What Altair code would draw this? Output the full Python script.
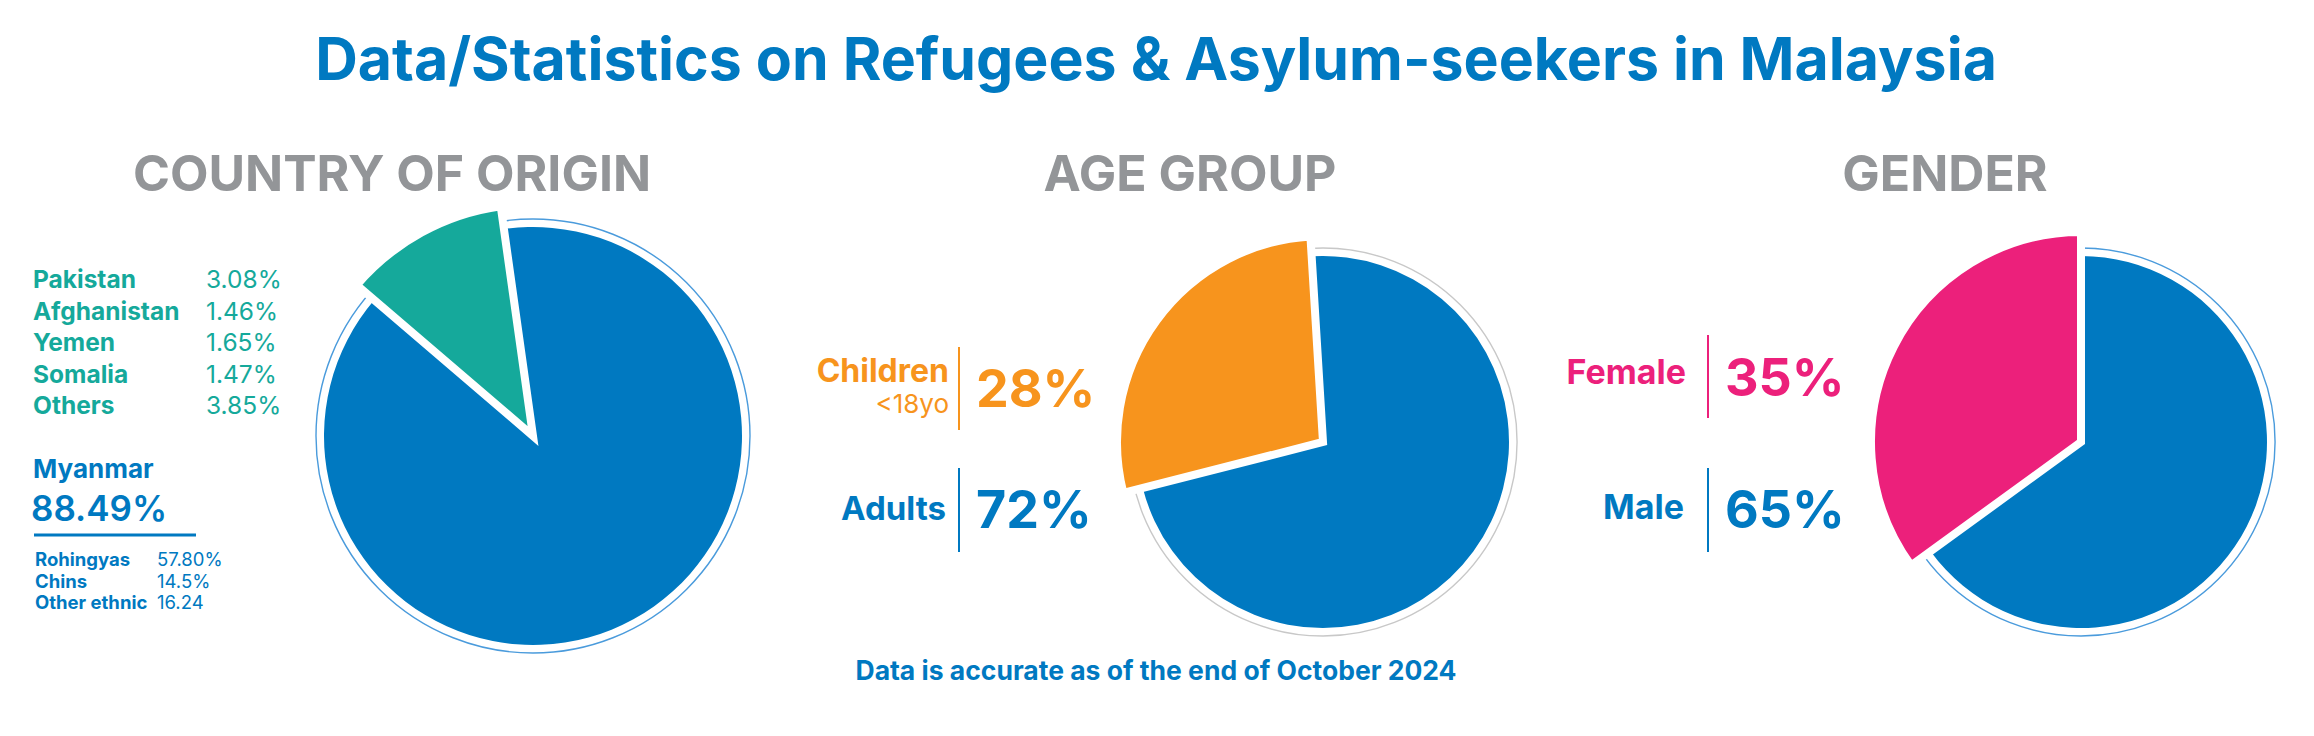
import math

import altair as alt
import pandas as pd

# ---- text -----------------------------------------------------------------
TITLE = "Data/Statistics on Refugees & Asylum-seekers in Malaysia"
NOTE = "Data is accurate as of the end of October 2024"
SECTIONS = ["COUNTRY OF ORIGIN", "AGE GROUP", "GENDER"]

# ---- data -----------------------------------------------------------------
other_countries = ["Pakistan", "Afghanistan", "Yemen", "Somalia", "Others"]
other_pcts = [3.08, 1.46, 1.65, 1.47, 3.85]
myanmar_pct = 88.49

ethnic_groups = ["Rohingyas", "Chins", "Other ethnic"]
ethnic_labels = ["57.80%", "14.5%", "16.24"]

age_groups = ["Adults", "Children"]
age_pcts = [72, 28]

genders = ["Male", "Female"]
gender_pcts = [65, 35]

# ---- style ----------------------------------------------------------------
FONT = "Inter"
BLUE = "#0079C1"
TEAL = "#15A99B"
ORANGE = "#F7941D"
PINK = "#EC207B"
GREY = "#939598"
RING_BLUE = "#4A9BDC"
RING_GREY = "#C8C8C8"
TAU = 2 * math.pi


def text(df, field, x, y, size, color, weight="bold", align="left"):
    return (
        alt.Chart(df)
        .mark_text(font=FONT, fontSize=size, fontWeight=weight, color=color,
                   align=align, baseline="alphabetic")
        .encode(text=f"{field}:N", x=alt.value(x), y=alt.value(y))
    )


def one(value):
    return pd.DataFrame({"t": [value]})


def pie(names, values, cx, cy, r, r_pop, start_deg, ring_color, pop_color):
    df = pd.DataFrame({"name": names, "value": values})
    df["t1"] = df["value"].cumsum()
    df["t0"] = df["t1"] - df["value"]
    start = math.radians(start_deg) % TAU
    theta_scale = alt.Scale(domain=[0, 100], range=[start, start + TAU])
    enc = dict(
        theta=alt.Theta("t0:Q", scale=theta_scale),
        theta2="t1:Q",
        x=alt.value(cx),
        y=alt.value(cy),
    )
    ring = (
        alt.Chart(df.head(1))
        .mark_arc(radius=r + 8, fill="white", stroke=ring_color, strokeWidth=1.4)
        .encode(theta=alt.value(0), theta2=alt.value(TAU), x=alt.value(cx), y=alt.value(cy))
    )
    main = (
        alt.Chart(df)
        .transform_filter(alt.datum.name == names[0])
        .mark_arc(radius=r, fill=BLUE)
        .encode(**enc)
    )
    pop = (
        alt.Chart(df)
        .transform_filter(alt.datum.name == names[1])
        .mark_arc(radius=r_pop, fill=pop_color, stroke="white", strokeWidth=8,
                  strokeJoin="miter")
        .encode(**enc)
    )
    return [ring, main, pop]


def pick(df, col, val):
    return df[df[col] == val]


layers = []

# headings
layers.append(text(one(TITLE), "t", 1156, 80, 59, BLUE, align="center"))
for label, cx in zip(SECTIONS, [392, 1190, 1945]):
    layers.append(text(one(label), "t", cx, 191, 50, GREY, align="center"))
layers.append(text(one(NOTE), "t", 1156, 680, 26.5, BLUE, align="center"))

# ---- country of origin ----------------------------------------------------
layers += pie(["Myanmar", "Other countries"], [myanmar_pct, round(sum(other_pcts), 2)],
              533, 436, 209, 232, -8, RING_BLUE, TEAL)

countries = pd.DataFrame({"country": other_countries, "pct": other_pcts})
countries["label"] = countries["pct"].map(lambda v: f"{v:.2f}%")
row_y = alt.Y("country:N", sort=other_countries, axis=None,
              scale=alt.Scale(type="point", range=[288, 414], padding=0))
for field, x, weight in [("country", 33, "bold"), ("label", 206, "normal")]:
    layers.append(
        alt.Chart(countries)
        .mark_text(font=FONT, fontSize=24.5, fontWeight=weight, color=TEAL,
                   align="left", baseline="alphabetic")
        .encode(text=f"{field}:N", x=alt.value(x), y=row_y)
    )

layers.append(text(one("Myanmar"), "t", 33, 478, 26, BLUE))
layers.append(text(one(f"{myanmar_pct:.2f}%"), "t", 31, 521, 35, BLUE, weight=600))
layers.append(
    alt.Chart(one(0)).mark_rule(color=BLUE, strokeWidth=3)
    .encode(x=alt.value(34), x2=alt.value(196), y=alt.value(535))
)

ethnic = pd.DataFrame({"group": ethnic_groups, "label": ethnic_labels})
eth_y = alt.Y("group:N", sort=ethnic_groups, axis=None,
              scale=alt.Scale(type="point", range=[566, 609], padding=0))
for field, x, weight in [("group", 35, "bold"), ("label", 157, "normal")]:
    layers.append(
        alt.Chart(ethnic)
        .mark_text(font=FONT, fontSize=18.5, fontWeight=weight, color=BLUE,
                   align="left", baseline="alphabetic")
        .encode(text=f"{field}:N", x=alt.value(x), y=eth_y)
    )

# ---- age group ------------------------------------------------------------
layers += pie(age_groups, age_pcts, 1323, 442, 186, 206, -3.5, RING_GREY, ORANGE)

age = pd.DataFrame({"group": age_groups, "pct": age_pcts})
age["label"] = age["pct"].map(lambda v: f"{v}%")
children = pick(age, "group", "Children")
adults = pick(age, "group", "Adults")
layers.append(text(children, "group", 949, 382, 32, ORANGE, align="right"))
layers.append(text(one("<18yo"), "t", 949, 413, 26, ORANGE, weight="normal", align="right"))
layers.append(text(children, "label", 976, 407, 52, ORANGE))
layers.append(text(adults, "group", 946, 520, 33, BLUE, align="right"))
layers.append(text(adults, "label", 976, 528, 52, BLUE))
for color, y0, y1 in [(ORANGE, 347, 430), (BLUE, 468, 552)]:
    layers.append(
        alt.Chart(one(0)).mark_rule(color=color, strokeWidth=2)
        .encode(x=alt.value(959), y=alt.value(y0), y2=alt.value(y1))
    )

# ---- gender ---------------------------------------------------------------
layers += pie(genders, gender_pcts, 2081, 442, 186, 210, 0, RING_BLUE, PINK)

gender = pd.DataFrame({"group": genders, "pct": gender_pcts})
gender["label"] = gender["pct"].map(lambda v: f"{v}%")
female = pick(gender, "group", "Female")
male = pick(gender, "group", "Male")
layers.append(text(female, "group", 1686, 384, 34, PINK, align="right"))
layers.append(text(female, "label", 1725, 396, 52, PINK))
layers.append(text(male, "group", 1684, 519, 34, BLUE, align="right"))
layers.append(text(male, "label", 1725, 528, 52, BLUE))
for color, y0, y1 in [(PINK, 335, 418), (BLUE, 468, 552)]:
    layers.append(
        alt.Chart(one(0)).mark_rule(color=color, strokeWidth=2)
        .encode(x=alt.value(1708), y=alt.value(y0), y2=alt.value(y1))
    )

chart = (
    alt.layer(*layers)
    .resolve_scale(theta="independent", y="independent", x="independent")
    .properties(width=2314, height=736, padding=0,
                autosize=alt.AutoSizeParams(type="none"), background="white")
    .configure_view(stroke=None)
)

chart.save("out.html", embed_options={"renderer": "svg", "actions": False})
